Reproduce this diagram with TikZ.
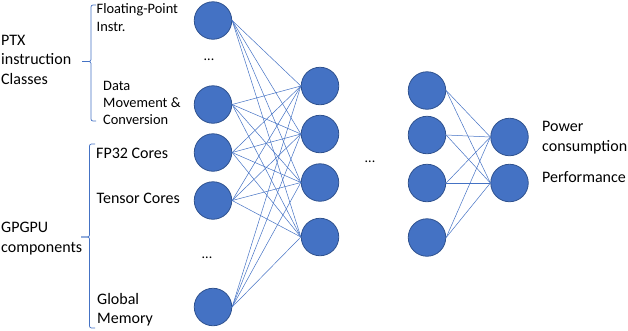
\documentclass[tikz,border=0pt]{standalone}
\usepackage{fontspec}
\setmainfont{Carlito}
\definecolor{nodefill}{HTML}{4472C4}
\definecolor{nodeedge}{HTML}{2F528F}
\definecolor{linkcol}{HTML}{4472C4}
\begin{document}
\begin{tikzpicture}[x=1pt,y=-1pt,
  neuron/.style={circle,minimum size=37.5pt,inner sep=0pt,fill=nodefill,draw=nodeedge,line width=0.8pt},
  link/.style={draw=linkcol,line width=0.5pt},
  brace/.style={draw=linkcol,line width=0.7pt,rounded corners=2pt},
  biglbl/.style={anchor=west,align=left,inner sep=0pt,font=\fontsize{16}{19.5}\selectfont},
  smalllbl/.style={anchor=west,align=left,inner sep=0pt,font=\fontsize{14.4}{17.4}\selectfont},
  dotslbl/.style={inner sep=0pt,font=\fontsize{14}{16}\selectfont}]
\useasboundingbox (0,0) rectangle (628,330);
% input layer
\node[neuron] (i1) at (213,20.5) {};
\node[neuron] (i2) at (213,104.5) {};
\node[neuron] (i3) at (213,152.5) {};
\node[neuron] (i4) at (213,200.5) {};
\node[neuron] (i5) at (213,307) {};
% hidden 1
\node[neuron] (h1) at (320,86) {};
\node[neuron] (h2) at (320,134) {};
\node[neuron] (h3) at (320,182.5) {};
\node[neuron] (h4) at (320,237) {};
% hidden 2
\node[neuron] (g1) at (427,90.5) {};
\node[neuron] (g2) at (427,135) {};
\node[neuron] (g3) at (427,183) {};
\node[neuron] (g4) at (427,237.5) {};
% output
\node[neuron] (o1) at (509.5,137) {};
\node[neuron] (o2) at (509.5,183) {};
% connections
\foreach \a in {i1,i2,i3,i4,i5}
  \foreach \b in {h1,h2,h3,h4}
    \draw[link] (\a.east) -- (\b.west);
\foreach \a in {g1,g2,g3,g4}
  \foreach \b in {o1,o2}
    \draw[link] (\a.east) -- (\b.west);
% dots
\node[dotslbl] (d1) at (209,60) {...};
\node[dotslbl] (d2) at (207,258) {...};
\node[dotslbl] (d3) at (370,162) {...};
% labels
\node[biglbl] (ptx) at (1,59.5) {PTX\\instruction\\Classes};
\node[smalllbl] (fp) at (96.5,17.5) {Floating-Point\\Instr.};
\node[smalllbl] (dm) at (103,103) {Data\\Movement \&\\Conversion};
\node[biglbl] (fp32) at (96,153.5) {FP32 Cores};
\node[biglbl] (tc) at (96.5,198.5) {Tensor Cores};
\node[biglbl] (gpgpu) at (1,238.5) {GPGPU\\components};
\node[biglbl] (gm) at (97,309.5) {Global\\Memory};
\node[biglbl] (pc) at (542,137.5) {Power\\consumption};
\node[biglbl] (perf) at (542,177.5) {Performance};
% braces
\coordinate (b1t) at (96,5);
\coordinate (b1b) at (96,121);
\coordinate (b1m) at (82,61.5);
\draw[brace] (b1t) -- (91,5) -- (91,61.5) -- (b1m);
\draw[brace] (b1m) -- (91,61.5) -- (91,121) -- (b1b);
\coordinate (b2t) at (95,144);
\coordinate (b2b) at (95,328);
\coordinate (b2m) at (81,237);
\draw[brace] (b2t) -- (89.5,144) -- (89.5,237) -- (b2m);
\draw[brace] (b2m) -- (89.5,237) -- (89.5,328) -- (b2b);
\end{tikzpicture}
\end{document}
